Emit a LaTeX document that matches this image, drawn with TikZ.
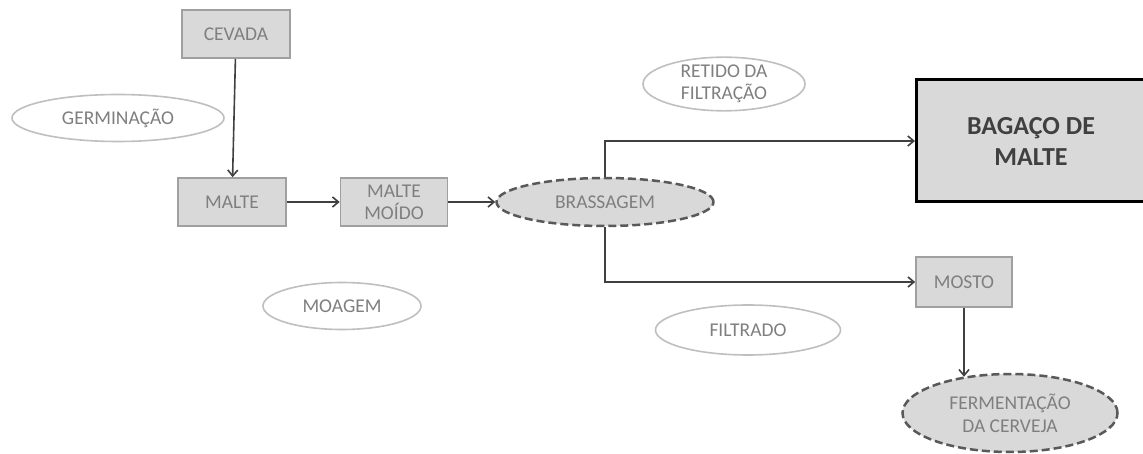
\documentclass[tikz,border=0pt]{standalone}
\usepackage{fontspec}
\setmainfont{Carlito}
\usetikzlibrary{arrows.meta,shapes.geometric}

\definecolor{boxfill}{HTML}{D9D9D9}
\definecolor{boxline}{HTML}{A0A0A0}
\definecolor{txtgray}{HTML}{7F7F7F}
\definecolor{ovalline}{HTML}{BFBFBF}
\definecolor{dashline}{HTML}{595959}
\definecolor{arrowline}{HTML}{404040}

\begin{document}
\begin{tikzpicture}[x=1pt,y=-1pt,
    ->,>={Straight Barb[length=6pt,width=10pt]},line width=1.6pt,
    every node/.style={font=\fontsize{19.5}{22}\selectfont,text=txtgray,align=center},
    etapa/.style={rectangle,draw=boxline,fill=boxfill,line width=1.6pt,
        minimum width=108pt,minimum height=48pt,inner sep=0pt},
    rotulo/.style={ellipse,draw=ovalline,fill=white,line width=1.6pt,inner sep=0pt},
    processo/.style={ellipse,draw=dashline,fill=boxfill,line width=2.5pt,
        dash pattern=on 8pt off 4pt,inner sep=0pt}]
    \fill[white] (0,0) rectangle (1143,454);
    \useasboundingbox (0,0) rectangle (1143,454);

    \node[etapa]  (cevada)   at (236,34)  {CEVADA};
    \node[rotulo,minimum width=212pt,minimum height=47pt] (germ) at (118,118) {GERMINAÇÃO};
    \node[etapa]  (malte)    at (232,202) {MALTE};
    \node[etapa,minimum width=107pt] (moido) at (394,202) {MALTE\\MOÍDO};
    \node[processo,minimum width=217pt,minimum height=48pt] (brass) at (605,202) {BRASSAGEM};
    \node[rotulo,minimum width=162pt,minimum height=52pt] (retido) at (724,84) {RETIDO DA\\FILTRAÇÃO};
    \node[rectangle,draw=black,fill=boxfill,line width=3pt,minimum width=229pt,
        minimum height=122pt,text=black!75,
        font=\fontsize{26}{31}\selectfont\bfseries] (bagaco) at (1031,141) {BAGAÇO DE\\MALTE};
    \node[etapa,minimum width=96pt,minimum height=50pt] (mosto) at (964,282) {MOSTO};
    \node[rotulo,minimum width=185pt,minimum height=50pt] (filtrado) at (748,330) {FILTRADO};
    \node[rotulo,minimum width=158pt,minimum height=47pt] (moagem) at (342,306) {MOAGEM};
    \node[processo,minimum width=215pt,minimum height=78pt,
        font=\fontsize{19.5}{23}\selectfont] (ferm) at (1010,413) {FERMENTAÇÃO\\DA CERVEJA};

    \path[draw=arrowline]
        (cevada) edge (malte)
        (malte)  edge (moido)
        (moido)  edge (brass);
    \draw[arrowline] (brass.north) |- (bagaco.west);
    \draw[arrowline] (brass.south) |- (mosto.west);
    \draw[arrowline,shorten >=-4pt] (mosto.south) -- (mosto.south |- ferm.north);
\end{tikzpicture}
\end{document}
